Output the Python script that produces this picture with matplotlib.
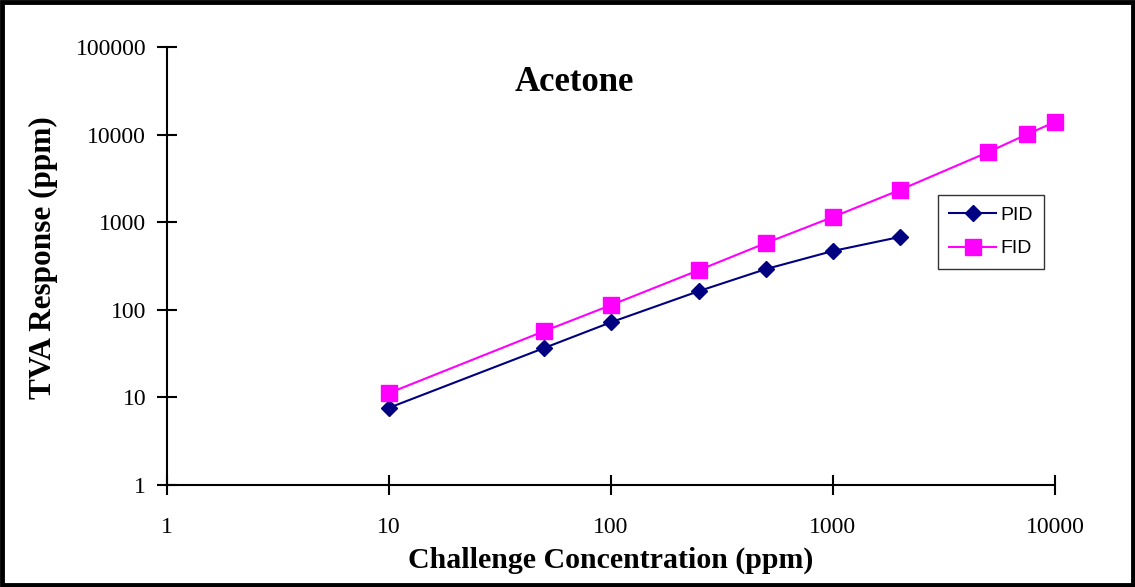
import matplotlib
matplotlib.use("Agg")
import matplotlib.pyplot as plt
from matplotlib.patches import Rectangle
from matplotlib.ticker import FixedLocator, FixedFormatter, NullLocator

# data
pid_x = [10, 50, 100, 250, 500, 1000, 2000]
pid_y = [7.6, 36.6, 72, 164, 292, 469, 678]
fid_x = [10, 50, 100, 250, 500, 1000, 2000, 5000, 7500, 10000]
fid_y = [11.2, 57, 113, 285, 579, 1146, 2330, 6300, 10100, 13900]

x_ticks = [1, 10, 100, 1000, 10000]
y_ticks = [1, 10, 100, 1000, 10000, 100000]

fig = plt.figure(figsize=(11.35, 5.87), dpi=100)
ax = fig.add_axes([0.1471, 0.1738, 0.7824, 0.7462])

ax.plot(pid_x, pid_y, color="#000080", marker="D", markersize=8.5, lw=1.5, label="PID",
        clip_on=False)
ax.plot(fid_x, fid_y, color="#FF00FF", marker="s", markersize=11, lw=1.5, label="FID",
        clip_on=False)

ax.set_xscale("log")
ax.set_yscale("log")
ax.set_xlim(1, 10000)
ax.set_ylim(1, 100000)

ax.xaxis.set_major_locator(FixedLocator(x_ticks))
ax.xaxis.set_major_formatter(FixedFormatter([str(v) for v in x_ticks]))
ax.yaxis.set_major_locator(FixedLocator(y_ticks))
ax.yaxis.set_major_formatter(FixedFormatter([str(v) for v in y_ticks]))
ax.xaxis.set_minor_locator(NullLocator())
ax.yaxis.set_minor_locator(NullLocator())

for s in ["top", "right"]:
    ax.spines[s].set_visible(False)
for s in ["left", "bottom"]:
    ax.spines[s].set_linewidth(1.5)

ax.tick_params(direction="inout", length=14, width=1.5, labelsize=17)
ax.tick_params(axis="x", pad=16)
ax.tick_params(axis="y", pad=8)
for lab in ax.get_xticklabels() + ax.get_yticklabels():
    lab.set_fontfamily("Liberation Serif")

ax.set_xlabel("Challenge Concentration (ppm)", fontsize=21.5, fontweight="bold",
              fontfamily="Liberation Serif", labelpad=6)
ax.set_ylabel("TVA Response (ppm)", fontsize=22.5, fontweight="bold",
              fontfamily="Liberation Serif")
ax.yaxis.set_label_coords(-0.123, 0.52)

ax.text(0.459, 0.92, "Acetone", transform=ax.transAxes, fontsize=25, fontweight="bold",
        fontfamily="Liberation Serif", ha="center", va="center")

leg = ax.legend(loc="upper left", bbox_to_anchor=(0.868, 0.662), frameon=True, fancybox=False,
                edgecolor="black", prop={"family": "Liberation Sans", "size": 14},
                handlelength=2.4, borderpad=0.6, labelspacing=0.8, handletextpad=0.2,
                borderaxespad=0)
leg.get_frame().set_linewidth(1.0)

fig.patches.append(Rectangle((0.002, 0.003), 0.996, 0.994, transform=fig.transFigure,
                             fill=False, edgecolor="black", linewidth=3.5))

fig.savefig("out.png", dpi=100)
